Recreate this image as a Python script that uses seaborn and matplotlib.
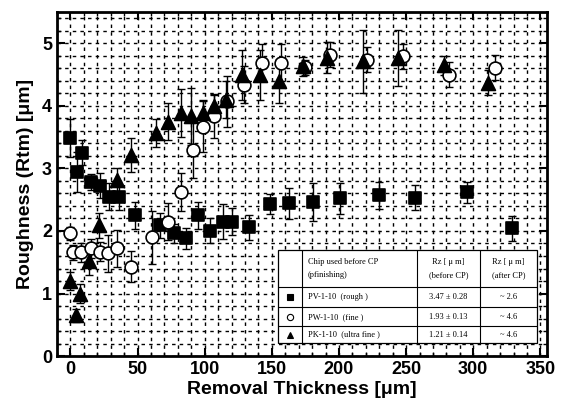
import numpy as np
import pandas as pd
import matplotlib
matplotlib.use("Agg")
import matplotlib.pyplot as plt
import seaborn as sns
from matplotlib.ticker import MultipleLocator

# PV-1-10 (rough) - squares
pv_x = [0, 5, 9, 15, 22, 29, 36, 48, 67, 77, 86, 95, 104, 114, 120, 133, 149, 163, 181, 201, 230, 257, 295, 329]
pv_y = [3.49, 2.94, 3.25, 2.78, 2.72, 2.55, 2.54, 2.25, 2.09, 1.96, 1.88, 2.25, 2.0, 2.15, 2.15, 2.06, 2.43, 2.44, 2.46, 2.52, 2.57, 2.53, 2.62, 2.04]
pv_e = [0.3, 0.32, 0.2, 0.13, 0.2, 0.22, 0.2, 0.22, 0.2, 0.15, 0.17, 0.22, 0.2, 0.28, 0.22, 0.2, 0.16, 0.25, 0.3, 0.25, 0.22, 0.2, 0.17, 0.2]

# PW-1-10 (fine) - open circles
pw_x = [0, 2, 8, 15, 22, 28, 35, 45, 61, 73, 82, 91, 99, 107, 117, 129, 143, 157, 175, 193, 221, 248, 282, 316]
pw_y = [1.96, 1.66, 1.66, 1.72, 1.67, 1.64, 1.72, 1.43, 1.9, 2.15, 2.62, 3.3, 3.67, 3.83, 4.07, 4.34, 4.69, 4.69, 4.62, 4.82, 4.74, 4.79, 4.5, 4.61]
pw_e = [0.1, 0.12, 0.15, 0.15, 0.15, 0.3, 0.3, 0.25, 0.42, 0.3, 0.3, 0.45, 0.4, 0.35, 0.4, 0.3, 0.3, 0.3, 0.12, 0.2, 0.2, 0.2, 0.2, 0.2]

# PK-1-10 (ultra fine) - triangles
pk_x = [0, 4, 7, 14, 21, 35, 45, 64, 73, 82, 90, 99, 107, 116, 128, 141, 155, 173, 191, 218, 244, 278, 311]
pk_y = [1.2, 0.65, 1.0, 1.52, 2.09, 2.81, 3.21, 3.57, 3.75, 3.89, 3.83, 3.89, 3.99, 4.1, 4.49, 4.49, 4.39, 4.63, 4.77, 4.71, 4.77, 4.65, 4.37]
pk_e = [0.15, 0.1, 0.15, 0.22, 0.2, 0.2, 0.27, 0.22, 0.3, 0.38, 0.45, 0.2, 0.2, 0.3, 0.4, 0.4, 0.35, 0.15, 0.25, 0.5, 0.45, 0.15, 0.2]

# table contents
table_header = ["Chip used before CP\n(pfinishing)", "Rz [ \u03bc m]\n(before CP)", "Rz [ \u03bc m]\n(after CP)"]
table_names = ["PV-1-10  (rough )", "PW-1-10  (fine )", "PK-1-10  (ultra fine )"]
table_before = ["3.47 \u00b1 0.28", "1.93 \u00b1 0.13", "1.21 \u00b1 0.14"]
table_after = ["~ 2.6", "~ 4.6", "~ 4.6"]

sns.set_style("ticks", {"text.color": "black", "axes.labelcolor": "black",
                        "xtick.color": "black", "ytick.color": "black"})
plt.rcParams["font.family"] = ["Liberation Sans", "DejaVu Sans"]

fig = plt.figure(figsize=(5.64, 4.01), dpi=100)
ax = fig.add_axes([0.101, 0.112, 0.869, 0.858])

series = [
    (pv_x, pv_y, pv_e, "s", "black", 85),
    (pw_x, pw_y, pw_e, "o", "white", 85),
    (pk_x, pk_y, pk_e, "^", "black", 100),
]
for xs, ys, es, mk, fc, sz in series:
    ax.errorbar(xs, ys, yerr=es, fmt="none", ecolor="black", elinewidth=1.0,
                capsize=3, capthick=1.0, zorder=2)
for xs, ys, es, mk, fc, sz in series:
    df = pd.DataFrame({"x": xs, "y": ys})
    sns.scatterplot(data=df, x="x", y="y", marker=mk, s=sz, color=fc,
                    edgecolor="black", linewidth=1.2, ax=ax, zorder=3)

ax.set_xlim(-10, 355)
ax.set_ylim(0, 5.5)
ax.xaxis.set_major_locator(MultipleLocator(50))
ax.xaxis.set_minor_locator(MultipleLocator(10))
ax.yaxis.set_major_locator(MultipleLocator(1))
ax.yaxis.set_minor_locator(MultipleLocator(0.2))
ax.grid(which="both", color="black", linestyle=(0, (2.5, 3)), linewidth=1.0)
ax.set_axisbelow(True)
ax.tick_params(which="both", direction="in", top=True, right=True, colors="black")
ax.tick_params(which="major", length=6, width=1.5)
ax.tick_params(which="minor", length=3, width=1)
ax.tick_params(axis="both", labelsize=13)
for lab in ax.get_xticklabels() + ax.get_yticklabels():
    lab.set_fontweight("bold")
for sp in ax.spines.values():
    sp.set_linewidth(2)
    sp.set_color("black")

ax.set_xlabel("Removal Thickness [\u03bcm]", fontsize=14, fontweight="bold", labelpad=2)
ax.set_ylabel("Roughness (Rtm) [\u03bcm]", fontsize=14, fontweight="bold", labelpad=6)

# legend table drawn in axes coordinates
tl, tr, tt, tb = 0.451, 0.980, 0.308, 0.038
cols = [tl, 0.500, 0.735, 0.863, tr]
rows = [tt, 0.201, 0.142, 0.087, tb]
ax.add_patch(plt.Rectangle((tl, tb), tr - tl, tt - tb, transform=ax.transAxes,
                           facecolor="white", edgecolor="black", linewidth=0.9, zorder=5))
for c in cols[1:-1]:
    ax.plot([c, c], [tb, tt], transform=ax.transAxes, color="black", lw=0.8, zorder=6)
for r in rows[1:-1]:
    ax.plot([tl, tr], [r, r], transform=ax.transAxes, color="black", lw=0.8, zorder=6)

serif = ["Liberation Serif", "DejaVu Serif"]
hy = (rows[0] + rows[1]) / 2
ax.text(cols[1] + 0.012, hy, table_header[0], transform=ax.transAxes, fontsize=6,
        family=serif, va="center", ha="left", zorder=7, linespacing=1.8)
ax.text((cols[2] + cols[3]) / 2, hy, table_header[1], transform=ax.transAxes, fontsize=6,
        family=serif, va="center", ha="center", zorder=7, linespacing=1.8)
ax.text((cols[3] + cols[4]) / 2, hy, table_header[2], transform=ax.transAxes, fontsize=6,
        family=serif, va="center", ha="center", zorder=7, linespacing=1.8)

legend_marks = [("s", "black"), ("o", "white"), ("^", "black")]
for i in range(3):
    ry = (rows[i + 1] + rows[i + 2]) / 2
    mk, fc = legend_marks[i]
    ax.plot([(cols[0] + cols[1]) / 2], [ry], marker=mk, ms=4.5, mfc=fc, mec="black",
            mew=0.8, transform=ax.transAxes, zorder=7, linestyle="none")
    ax.text(cols[1] + 0.012, ry, table_names[i], transform=ax.transAxes, fontsize=6,
            family=serif, va="center", ha="left", zorder=7)
    ax.text((cols[2] + cols[3]) / 2, ry, table_before[i], transform=ax.transAxes, fontsize=6,
            family=serif, va="center", ha="center", zorder=7)
    ax.text((cols[3] + cols[4]) / 2, ry, table_after[i], transform=ax.transAxes, fontsize=6,
            family=serif, va="center", ha="center", zorder=7)

fig.savefig("out.png", dpi=100)
